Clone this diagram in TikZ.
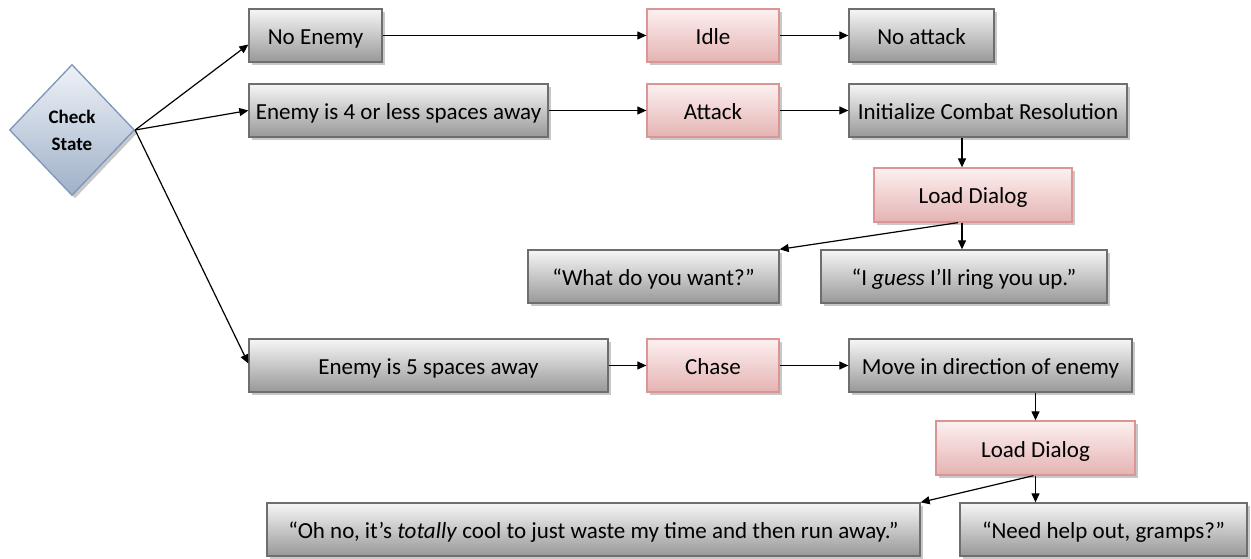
\documentclass[tikz,border=0pt]{standalone}
\usepackage{fontspec}
\setmainfont{Carlito}
\usetikzlibrary{shapes.geometric,arrows.meta,shadows,calc}
\definecolor{gtop}{HTML}{F6F6F6}
\definecolor{gbot}{HTML}{989898}
\definecolor{gline}{HTML}{6E6E6E}
\definecolor{ptop}{HTML}{FDF0F0}
\definecolor{pbot}{HTML}{E4B3B2}
\definecolor{pline}{HTML}{D99694}
\definecolor{btop}{HTML}{EEF2F8}
\definecolor{bbot}{HTML}{9FB0C8}
\definecolor{bline}{HTML}{7D96B8}
\definecolor{shad}{HTML}{C8C8C8}
\begin{document}
\begin{tikzpicture}[x=1bp,y=-1bp,
  base/.style={inner sep=0pt,line width=1.3bp,minimum height=53bp,
    text height=18bp,text depth=0pt,
    drop shadow={shadow xshift=3bp,shadow yshift=-3bp,fill=shad,opacity=1},
    font=\fontsize{23bp}{27bp}\selectfont},
  graybox/.style={base,draw=gline,top color=gtop,bottom color=gbot},
  pinkbox/.style={base,draw=pline,top color=ptop,bottom color=pbot},
  decision/.style={shape=diamond,inner sep=0pt,minimum width=125bp,minimum height=131bp,
    draw=bline,line width=1.3bp,top color=btop,bottom color=bbot,
    drop shadow={shadow xshift=3bp,shadow yshift=-3bp,fill=shad,opacity=1},
    align=center,font=\bfseries\fontsize{19bp}{27bp}\selectfont},
  arr/.style={-{Triangle[length=9bp,width=8bp]},line width=1.2bp,black}]
\path[use as bounding box,fill=white] (0,0) rectangle (1251,559);

\node[decision] (cs) at (72,130) {Check\\State};

\node[graybox,minimum width=133bp] (ne) at (315.5,35.5) {No Enemy};
\node[pinkbox,minimum width=132bp] (idle) at (713,35.5) {Idle};
\node[graybox,minimum width=145bp] (na) at (921.5,35.5) {No attack};

\node[graybox,minimum width=299bp] (e4) at (398.5,110.5) {Enemy is 4 or less spaces away};
\node[pinkbox,minimum width=132bp] (atk) at (713,110.5) {Attack};
\node[graybox,minimum width=278bp] (icr) at (988,110.5) {Initialize Combat Resolution};

\node[pinkbox,minimum width=198bp,minimum height=54bp] (ld1) at (973,195) {Load Dialog};
\node[graybox,minimum width=251bp] (what) at (653.5,276.5) {“What do you want?”};
\node[graybox,minimum width=286bp] (guess) at (964,276.5) {“I \emph{guess} I’ll ring you up.”};

\node[graybox,minimum width=359bp] (e5) at (428.5,365.5) {Enemy is 5 spaces away};
\node[pinkbox,minimum width=132bp] (chase) at (713,365.5) {Chase};
\node[graybox,minimum width=283bp] (mv) at (990.5,365.5) {Move in direction of enemy};

\node[pinkbox,minimum width=199bp,minimum height=54bp] (ld2) at (1035.5,448) {Load Dialog};
\node[graybox,minimum width=653bp] (ohno) at (593.5,529.5) {“Oh no, it’s \emph{totally} cool to just waste my time and then run away.”};
\node[graybox,minimum width=287bp] (need) at (1103.5,529.5) {“Need help out, gramps?”};

\draw[arr] (cs.east) -- ($(ne.west)+(0,9)$);
\draw[arr] (cs.east) -- (e4.west);
\draw[arr] (cs.east) -- ($(e5.west)+(0,-2)$);

\draw[arr] (ne.east) -- (idle.west);
\draw[arr] (idle.east) -- (na.west);
\draw[arr] (e4.east) -- (atk.west);
\draw[arr] (atk.east) -- (icr.west);
\draw[arr] (e5.east) -- (chase.west);
\draw[arr] (chase.east) -- (mv.west);

\coordinate (l1) at ($(ld1.south)+(-11,0)$);
\draw[arr] (l1 |- icr.south) -- (l1 |- ld1.north);
\draw[arr] (l1) -- (l1 |- guess.north);
\draw[arr] ($(ld1.south)+(-15,0)$) -- (what.north east);

\draw[arr] (ld2.north |- mv.south) -- (ld2.north);
\draw[arr] (ld2.south) -- (ld2.south |- need.north);
\draw[arr] ($(ld2.south)+(-2,0)$) -- (ohno.north east);
\end{tikzpicture}
\end{document}
